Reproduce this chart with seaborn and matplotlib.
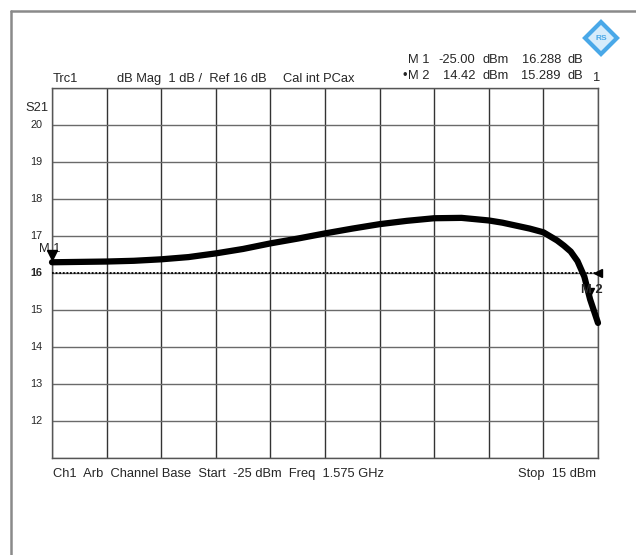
import matplotlib
matplotlib.use("Agg")
import matplotlib.pyplot as plt
from matplotlib.lines import Line2D
import seaborn as sns
import pandas as pd

# ---- data ----
power_dbm = [-25, -23, -21, -19, -17, -15, -13, -11, -9, -7, -5, -3, -1, 1, 3, 5,
             7, 8, 9, 10, 11, 12, 12.5, 13, 13.5, 14, 14.42, 15]
s21_db = [16.29, 16.30, 16.31, 16.33, 16.37, 16.43, 16.53, 16.65, 16.80, 16.93, 17.07,
          17.20, 17.32, 17.41, 17.48, 17.49, 17.42, 17.36, 17.28, 17.20, 17.10, 16.88,
          16.74, 16.58, 16.32, 15.90, 15.29, 14.65]
ytick_vals = [12, 13, 14, 15, 16, 17, 18, 19, 20]
ytick_labels = ["12", "13", "14", "15", "16", "17", "18", "19", "20"]
ref_level = 16
markers_x = [-25.00, 14.42]
markers_y = [16.288, 15.289]
marker_names = ["M 1", "M 2"]

W, H = 636, 555
sns.set_style("white")
plt.rcParams['font.family'] = ['Liberation Sans', 'DejaVu Sans']

fig = plt.figure(figsize=(W / 100, H / 100), dpi=100)
fig.patch.set_facecolor("white")

def fx(px):
    return px / W

def fy(py):
    return 1 - py / H

ax = fig.add_axes([fx(52), fy(458), fx(598) - fx(52), fy(88) - fy(458)])
df = pd.DataFrame({"Power": power_dbm, "S21": s21_db})
sns.lineplot(data=df, x="Power", y="S21", ax=ax, color="black", linewidth=4.5,
             clip_on=False, zorder=5)

ax.set_xlim(-25, 15)
ax.set_ylim(11, 21)
ax.set_xticks(range(-25, 16, 4))
ax.set_yticks(range(11, 22))
ax.set_xlabel("")
ax.set_ylabel("")
ax.tick_params(length=0, labelbottom=False, labelleft=False)
for x in range(-25, 16, 4):
    ax.axvline(x, color="#333333", lw=1, zorder=1)
for y in range(11, 22):
    ax.axhline(y, color="#6a6a6a", lw=1, zorder=1)
for s in ax.spines.values():
    s.set_color("#555555")
    s.set_linewidth(1)

# reference line
ax.axhline(ref_level, color="black", lw=1.3, dashes=(1, 1), zorder=3)

# tick labels
for v, lab in zip(ytick_vals, ytick_labels):
    ax.text(-0.018, v, lab, transform=ax.get_yaxis_transform(), ha="right", va="center",
            fontsize=7.8, fontweight="bold" if v == ref_level else "normal")
ax.text(-0.007, 20.45, "S21", transform=ax.get_yaxis_transform(), ha="right",
        va="center", fontsize=9.3)

# markers
ax.plot([markers_x[0]], [markers_y[0] + 0.2], marker="v", color="black", markersize=7,
        clip_on=False, zorder=6, ls="none")
ax.text(markers_x[0] - 0.2, 16.56, marker_names[0], ha="center",
        va="baseline", fontsize=9.3, clip_on=False)
ax.plot([markers_x[1]], [markers_y[1] + 0.2], marker="v", color="black", markersize=6,
        clip_on=False, zorder=6, ls="none")
ax.text(14.55, 15.55, marker_names[1], ha="center", va="center", fontsize=9.3,
        fontweight="bold", clip_on=False, zorder=7)
ax.plot([15], [ref_level], marker="<", color="black", markersize=6, clip_on=False,
        zorder=6, ls="none")

# header texts
fs = 9.3
fig.text(fx(53), fy(82), "Trc1", fontsize=fs, va="baseline")
fig.text(fx(117), fy(82), "dB Mag  1 dB /  Ref 16 dB", fontsize=fs, va="baseline")
fig.text(fx(283), fy(82), "Cal int PCax", fontsize=fs, va="baseline")

rows = [(63, "M 1", "-25.00", "16.288", False), (79, "M 2", "14.42", "15.289", True)]
for by, name, pwr, val, active in rows:
    fig.text(fx(408), fy(by), name, fontsize=fs, va="baseline")
    if active:
        fig.text(fx(407), fy(by), "•", fontsize=fs, va="baseline", ha="right")
    fig.text(fx(475), fy(by), pwr, fontsize=fs, va="baseline", ha="right")
    fig.text(fx(482), fy(by), "dBm", fontsize=fs, va="baseline")
    fig.text(fx(561), fy(by), val, fontsize=fs, va="baseline", ha="right")
    fig.text(fx(568), fy(by), "dB", fontsize=fs, va="baseline")
fig.text(fx(593), fy(81), "1", fontsize=fs, va="baseline")

# footer texts
fig.text(fx(53), fy(477), "Ch1  Arb  Channel Base  Start  -25 dBm  Freq  1.575 GHz",
         fontsize=fs, va="baseline")
fig.text(fx(596), fy(477), "Stop  15 dBm", fontsize=fs, va="baseline", ha="right")

# outer frame
fig.add_artist(Line2D([fx(11), fx(11)], [0, fy(11)], color="#8a8a8a", lw=1.8))
fig.add_artist(Line2D([fx(11), 1], [fy(11), fy(11)], color="#8a8a8a", lw=1.8))

# logo
fig.add_artist(Line2D([fx(601)], [fy(38)], marker="D", markersize=16,
                      markerfacecolor="#d6ecfb", markeredgecolor="#49a8e8",
                      markeredgewidth=3, ls="none"))
fig.text(fx(601), fy(38), "RS", fontsize=6, color="#49a8e8", ha="center", va="center",
         fontweight="bold")

fig.savefig("out.png", dpi=100, facecolor="white")
